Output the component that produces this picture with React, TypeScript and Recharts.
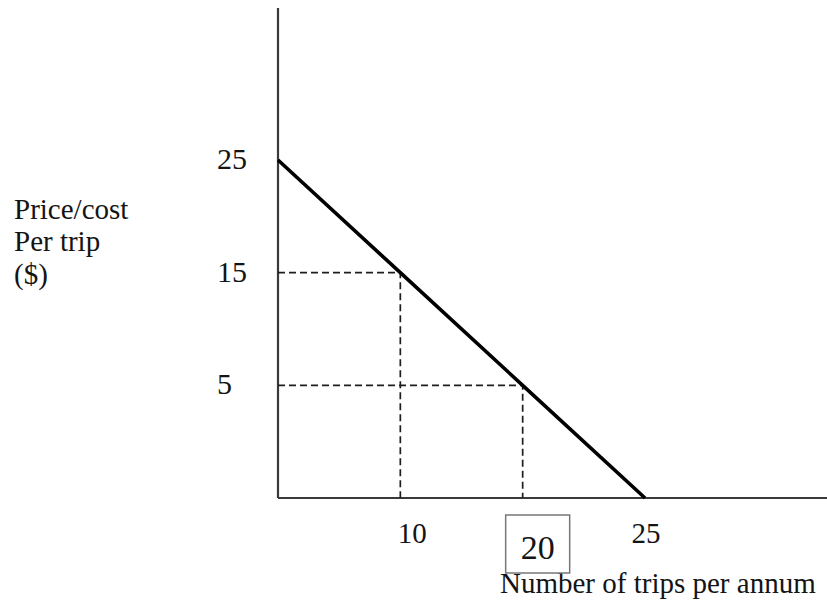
import React from 'react';
import { ScatterChart, Scatter, XAxis, YAxis } from 'recharts';

// demand schedule: trips per year vs price per trip
const tripCounts = [0, 10, 20, 25];
const pricePerTrip = [25, 15, 5, 0];

// the two marked points that get dashed guide lines
const markedTrips = [10, 20];
const markedPrices = [15, 5];

const xTicks = [10, 20, 25];
const yTicks = [5, 15, 25];
const boxedTick = 20;

const demand = tripCounts.map((x, i) => ({ x, y: pricePerTrip[i] }));
const guides = markedTrips.map((x, i) => [
  { x: 0, y: markedPrices[i] },
  { x, y: markedPrices[i] },
  { x, y: 0 },
]);

const FONT = '"Liberation Serif", "Times New Roman", serif';
const INK = '#141414';

// schematic axis: the labelled values sit at equal steps, not to scale
function knotScale(knots: number[]): any {
  let dom: number[] = [knots[0], knots[knots.length - 1]];
  let rng: number[] = [0, 1];
  const scale: any = (v: number) => {
    let i = 0;
    while (i < knots.length - 2 && v > knots[i + 1]) i++;
    const t = (i + (v - knots[i]) / (knots[i + 1] - knots[i])) / (knots.length - 1);
    return rng[0] + t * (rng[1] - rng[0]);
  };
  scale.domain = (d?: number[]) => {
    if (d === undefined) return dom.slice();
    dom = d.slice();
    return scale;
  };
  scale.range = (r?: number[]) => {
    if (r === undefined) return rng.slice();
    rng = r.slice();
    return scale;
  };
  scale.copy = () => knotScale(knots).domain(dom).range(rng);
  scale.ticks = () => knots.slice();
  return scale;
}

const xScale = knotScale(tripCounts);
const yScale = knotScale([...pricePerTrip].reverse());

const xLabelShift: Record<number, number> = { 10: 12, 20: 15, 25: 1 };

const XTick = (props: any) => {
  const { x, y, payload } = props;
  const v = payload.value as number;
  const cx = x + (xLabelShift[v] ?? 0);
  if (v === boxedTick) {
    return (
      <g>
        <rect x={cx - 32} y={y + 17} width={64} height={58} fill="#fff" stroke="#777" strokeWidth={1.5} />
        <text x={cx} y={y + 61} textAnchor="middle" fontFamily={FONT} fontSize={34} fill={INK}>
          {v}
        </text>
      </g>
    );
  }
  return (
    <text x={cx} y={y + 45} textAnchor="middle" fontFamily={FONT} fontSize={29} fill={INK}>
      {v}
    </text>
  );
};

const YTick = (props: any) => {
  const { x, y, payload } = props;
  return (
    <text x={x - 61} y={y + 9} textAnchor="start" fontFamily={FONT} fontSize={30} fill={INK}>
      {payload.value}
    </text>
  );
};

const YTitle = () => (
  <text fontFamily={FONT} fontSize={29} fill={INK}>
    <tspan x={14} y={219}>Price/cost</tspan>
    <tspan x={14} y={251}>Per trip</tspan>
    <tspan x={14} y={284}>($)</tspan>
  </text>
);

const XTitle = () => (
  <text x={500} y={593} fontFamily={FONT} fontSize={29} fill={INK}>
    Number of trips per annum
  </text>
);

const noDot = () => <g />;

export default function App() {
  return (
    <div style={{ position: 'absolute', left: 0, top: 0, background: '#fff' }}>
      <ScatterChart width={827} height={600} margin={{ top: 8, right: 0, bottom: 12, left: 8 }}>
        <XAxis
          type="number"
          dataKey="x"
          domain={[0, 25]}
          scale={xScale}
          ticks={xTicks}
          tick={<XTick />}
          tickLine={false}
          tickSize={0}
          tickMargin={0}
          height={90}
          padding={{ left: 0, right: 182 }}
          axisLine={{ stroke: '#3a3a3a', strokeWidth: 2.2 }}
          label={<XTitle />}
        />
        <YAxis
          type="number"
          dataKey="y"
          domain={[0, 25]}
          scale={yScale}
          ticks={yTicks}
          tick={<YTick />}
          tickLine={false}
          tickSize={0}
          tickMargin={0}
          width={270}
          padding={{ top: 152, bottom: 0 }}
          axisLine={{ stroke: '#3a3a3a', strokeWidth: 2.2 }}
          label={<YTitle />}
        />
        {guides.map((g, i) => (
          <Scatter
            key={i}
            data={g}
            fill="#222"
            shape={noDot}
            line={{ stroke: '#1e1e1e', strokeWidth: 1.7, strokeDasharray: '7 4' }}
            lineType="joint"
            isAnimationActive={false}
          />
        ))}
        <Scatter
          data={demand}
          fill="#000"
          shape={noDot}
          line={{ stroke: '#000', strokeWidth: 3.6 }}
          lineType="joint"
          isAnimationActive={false}
        />
      </ScatterChart>
    </div>
  );
}
